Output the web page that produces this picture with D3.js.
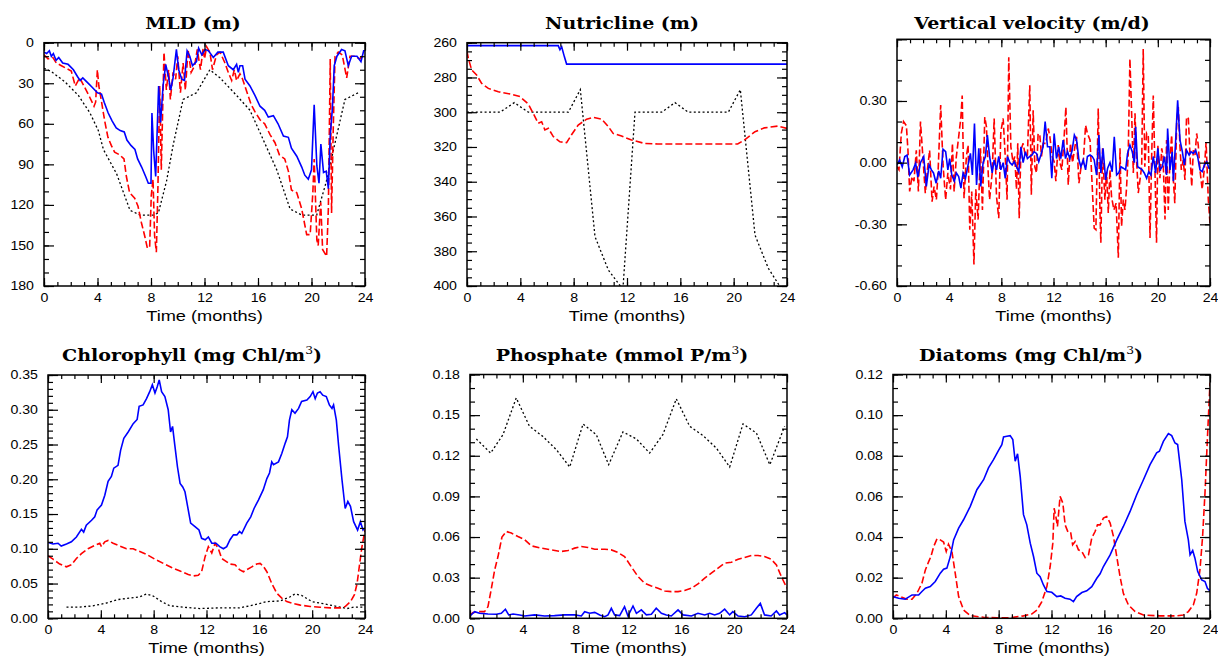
<!DOCTYPE html>
<html>
<head>
<meta charset="utf-8">
<script src="https://cdn.jsdelivr.net/npm/d3@7"></script>
<style>
  body { margin: 0; background: #fff; }
  svg { display: block; }
</style>
</head>
<body>
<svg id="fig" width="1218" height="656"></svg>
<script>
// ---- data: [time in months, value] ----
const mldBlue = [[0,7],[0.2,8],[0.4,6],[0.55,10],[0.7,8],[0.9,13],[1.1,11],[1.4,15],[1.8,16],[2.2,20],[2.5,25],[2.7,28],[2.9,26],[3.2,29],[3.6,33],[4.0,37],[4.3,38],[4.5,44],[4.8,52],[5.1,58],[5.4,63],[5.7,65],[6.0,66],[6.2,72],[6.5,76],[6.8,79],[7.0,86],[7.3,92],[7.6,99],[7.8,104],[8.0,104],[8.07,52],[8.2,80],[8.35,99],[8.57,32],[8.72,59],[8.9,32],[9.1,16],[9.3,25],[9.47,35],[9.65,26],[9.9,5],[10.07,20],[10.3,27],[10.5,28],[10.7,6],[10.9,10],[11.1,17],[11.4,14],[11.56,4],[11.8,9],[12.05,5],[12.3,6],[12.66,11],[13.0,7],[13.4,7],[13.78,17],[14.15,20],[14.4,16],[14.53,22],[14.65,17],[14.85,17],[15.03,27],[15.4,32],[15.77,39],[16.15,47],[16.5,50],[16.77,55],[17.15,54],[17.5,60],[17.9,69],[18.27,70],[18.5,78],[18.9,84],[19.27,92],[19.5,98],[19.76,101],[20.0,94],[20.2,46],[20.4,91],[20.56,104],[20.7,75],[20.9,96],[21.1,95],[21.26,108],[21.4,69],[21.56,49],[21.7,17],[21.9,10],[22.25,5],[22.5,6],[22.75,17],[23.0,10],[23.4,10],[23.7,14],[23.9,6],[24,6]];
const mldRed = [[0,9],[0.3,12],[0.67,11],[0.92,15],[1.3,17],[1.67,19],[2.04,21],[2.34,32],[2.67,26],[3.04,33],[3.4,40],[3.74,47],[3.86,44],[3.99,20],[4.1,32],[4.29,43],[4.54,58],[4.78,70],[5.03,76],[5.28,81],[5.66,83],[5.98,86],[6.16,99],[6.4,111],[6.78,115],[7.03,121],[7.28,133],[7.53,143],[7.73,152],[7.9,151],[8.02,113],[8.15,101],[8.27,143],[8.4,155],[8.52,106],[8.65,32],[8.77,94],[8.97,7],[9.15,35],[9.32,20],[9.45,42],[9.65,22],[9.84,27],[10.0,10],[10.2,37],[10.4,15],[10.57,35],[10.77,5],[11.0,22],[11.26,17],[11.46,5],[11.7,20],[11.9,4],[12.0,12],[12.16,3],[12.4,7],[12.6,20],[12.9,9],[13.16,7],[13.53,15],[13.78,22],[14.03,28],[14.23,20],[14.4,28],[14.65,23],[14.85,27],[15.15,36],[15.5,46],[15.77,51],[16.15,57],[16.5,60],[16.9,68],[17.27,74],[17.6,83],[18.0,86],[18.27,95],[18.5,109],[18.9,111],[19.27,123],[19.64,142],[19.9,142],[20.1,111],[20.2,86],[20.4,146],[20.5,150],[20.69,118],[20.83,153],[21.13,158],[21.26,123],[21.4,12],[21.5,126],[21.63,62],[21.76,10],[22.0,7],[22.3,9],[22.63,26],[22.88,10],[23.25,10],[23.6,12],[23.9,9],[24,9]];
const mldBlack = [[0,19],[0.5,21],[1.57,29],[2.57,39],[3.44,52],[4.06,65],[4.44,79],[5.43,97],[6.43,124],[7.18,127.5],[8.17,127.5],[8.55,126],[9.17,102],[9.67,75],[10.4,42],[11.4,37],[12.4,20],[13.16,26],[14.4,39],[15.4,50],[16.4,72],[17.4,94],[18.4,123],[19.27,127.5],[20.39,127.5],[21.1,103],[21.9,68],[22.5,42],[23.5,37]];

const nutBlue = [[0,261.7],[6.84,261.7],[6.97,264],[7.1,262.3],[7.3,268],[7.47,272.3],[24,272.3]];
const nutRed = [[0,265],[0.1,269],[0.35,275.7],[0.72,278.6],[1.1,283.4],[1.6,286.3],[2.35,288.2],[3.35,289.7],[3.97,291],[4.6,295.3],[4.97,300.7],[5.34,306.4],[5.6,305.5],[5.84,310.2],[6.1,309.3],[6.47,314],[6.97,317],[7.47,317.5],[7.84,313],[8.34,307.4],[8.97,304],[9.47,303],[10.1,304],[10.6,308.3],[10.96,312.2],[11.59,313.7],[12.34,316],[13.34,318],[14.3,318.3],[20.3,318.3],[20.8,316],[21.6,311.2],[22.3,309],[23.3,308],[24,309.3]];
const nutBlack = [[0,300],[2.47,300],[3.55,294.5],[4.6,300],[7.6,300],[8.5,287],[9.6,371.6],[10.6,390.8],[11.6,401],[11.7,401],[12.6,300],[14.6,300],[15.6,294.5],[16.6,300],[19.6,300],[20.5,287],[21.6,370.7],[22.6,389.8],[23.45,400],[24,406]];

const velBlue = [[0,-0.011],[0.2,0.013],[0.4,-0.02],[0.6,0.03],[0.77,0.037],[0.97,-0.06],[1.23,-0.035],[1.43,-0.003],[1.6,-0.07],[1.8,0],[2.05,0.03],[2.25,-0.116],[2.46,-0.011],[2.64,-0.035],[2.8,-0.05],[3.0,-0.1],[3.2,-0.04],[3.35,-0.076],[3.53,0.065],[3.73,0.053],[3.9,-0.035],[4.04,0.02],[4.2,-0.06],[4.4,-0.09],[4.55,-0.05],[4.73,-0.068],[4.9,-0.124],[5.07,-0.05],[5.25,-0.076],[5.45,-0.011],[5.63,0.045],[5.78,-0.06],[5.94,0.19],[6.1,-0.108],[6.27,0.07],[6.42,-0.116],[6.6,0],[6.78,0.03],[6.93,0.134],[7.1,0.03],[7.3,-0.05],[7.45,0.013],[7.63,-0.035],[7.8,0.03],[7.96,-0.035],[8.14,0],[8.3,-0.076],[8.47,0.03],[8.65,0],[8.83,-0.011],[9.0,0.005],[9.16,-0.02],[9.34,-0.044],[9.5,0.077],[9.67,0],[9.85,0.053],[10.0,0.02],[10.18,0.03],[10.36,0.037],[10.5,0.053],[10.7,0.045],[10.87,0.005],[11.03,0.037],[11.2,0.077],[11.36,0.2],[11.54,0.077],[11.72,0.077],[11.87,-0.076],[12.05,0.142],[12.23,0.02],[12.4,0.077],[12.56,0.02],[12.74,0.11],[12.92,0.02],[13.08,0.053],[13.25,0.02],[13.43,0.06],[13.6,0.134],[13.77,0.11],[13.95,0.013],[14.1,-0.02],[14.28,0.013],[14.46,-0.035],[14.6,0.03],[14.8,0.037],[14.97,0.03],[15.12,0.013],[15.3,-0.06],[15.48,0.134],[15.63,-0.05],[15.8,0.07],[16.0,-0.084],[16.15,-0.027],[16.33,0],[16.5,-0.044],[16.66,0.126],[16.84,-0.06],[17.0,-0.05],[17.17,-0.02],[17.35,-0.027],[17.53,-0.035],[17.68,0.045],[17.86,0.085],[18.04,0.053],[18.2,0],[18.3,0.174],[18.45,-0.02],[18.63,-0.027],[18.8,-0.035],[18.96,-0.05],[19.14,-0.076],[19.3,-0.044],[19.47,-0.06],[19.65,0.03],[19.83,-0.05],[20.0,0.07],[20.16,-0.035],[20.34,-0.02],[20.5,0.03],[20.67,-0.06],[20.75,0.166],[20.93,-0.035],[21.1,0.053],[21.19,-0.09],[21.36,0.1],[21.52,0.303],[21.7,0.11],[21.88,0.053],[22.03,-0.011],[22.2,0.06],[22.4,0.037],[22.54,0.053],[22.72,0.045],[22.9,0.06],[23.05,0.03],[23.23,-0.035],[23.4,-0.044],[23.57,-0.011],[23.75,0.005],[23.92,-0.027],[24,-0.027]];
const velRed = [[0,-0.02],[0.15,-0.035],[0.33,0.142],[0.5,0.2],[0.72,0.18],[0.84,0.06],[0.97,-0.14],[1.15,-0.068],[1.3,-0.09],[1.48,0.06],[1.64,-0.14],[1.8,0.2],[2.0,0.013],[2.17,-0.148],[2.33,-0.035],[2.5,0.06],[2.69,-0.19],[2.84,-0.116],[3.02,-0.18],[3.15,-0.044],[3.35,0.28],[3.53,-0.011],[3.73,-0.18],[3.9,-0.05],[4.1,-0.13],[4.25,0.094],[4.38,-0.14],[4.55,0.03],[4.73,0.126],[4.9,0.222],[5.0,0.327],[5.14,-0.173],[5.32,0.03],[5.45,0.085],[5.58,-0.326],[5.73,-0.14],[5.9,-0.495],[6.04,-0.13],[6.22,-0.277],[6.4,0.07],[6.55,-0.23],[6.73,0.222],[6.86,0.174],[7.0,-0.06],[7.1,-0.18],[7.3,-0.05],[7.45,0.215],[7.63,-0.165],[7.8,-0.27],[7.96,0.15],[8.14,0.215],[8.3,0.03],[8.44,-0.18],[8.57,0.513],[8.73,0.077],[8.9,0],[9.03,0.03],[9.16,-0.13],[9.26,0.094],[9.37,-0.27],[9.5,0.06],[9.67,0.094],[9.85,0.03],[10.0,0.037],[10.18,0.376],[10.3,-0.156],[10.44,0.255],[10.57,-0.02],[10.7,-0.05],[10.82,0.142],[10.95,0.134],[11.08,0.03],[11.2,0.094],[11.4,0.094],[11.6,0.166],[11.72,0.126],[11.9,0.03],[12.05,0.005],[12.18,-0.09],[12.36,0.085],[12.49,0],[12.64,-0.035],[12.8,0.11],[12.95,0.27],[13.13,-0.108],[13.3,0.094],[13.46,0],[13.64,0.077],[13.77,0.126],[13.95,-0.1],[14.1,-0.027],[14.28,0],[14.46,0.182],[14.6,0.142],[14.8,0.11],[14.97,-0.116],[15.12,-0.318],[15.25,-0.326],[15.43,0.263],[15.56,-0.23],[15.63,-0.39],[15.76,0.07],[15.94,-0.18],[16.07,-0.044],[16.2,-0.245],[16.33,-0.035],[16.45,-0.165],[16.63,-0.23],[16.8,-0.197],[16.97,-0.463],[17.1,0.07],[17.22,-0.31],[17.35,-0.18],[17.48,-0.23],[17.6,-0.124],[17.73,0.045],[17.86,0.505],[18.0,0.222],[18.12,-0.05],[18.25,0.24],[18.37,0.013],[18.5,-0.148],[18.63,-0.084],[18.76,-0.02],[18.88,0.553],[19.0,-0.02],[19.14,0.142],[19.27,0.126],[19.4,-0.366],[19.52,0.013],[19.65,0.327],[19.78,-0.035],[19.9,-0.39],[20.0,0.085],[20.16,-0.076],[20.3,0.07],[20.4,0.03],[20.55,-0.277],[20.67,0.11],[20.8,-0.23],[20.93,0.013],[21.06,0.134],[21.19,-0.084],[21.3,-0.197],[21.45,0.206],[21.57,0.27],[21.7,0.077],[21.8,-0.035],[21.95,0.013],[22.08,-0.084],[22.2,0.222],[22.34,0.215],[22.47,0.03],[22.6,-0.116],[22.72,0.06],[22.85,0.037],[22.98,0.142],[23.1,0.085],[23.23,-0.035],[23.4,-0.13],[23.57,-0.027],[23.7,0.1],[23.87,-0.18],[24,-0.294]];

const chlBlue = [[0,0.109],[0.38,0.107],[0.76,0.108],[1.0,0.104],[1.4,0.107],[1.77,0.11],[2.15,0.117],[2.53,0.128],[2.7,0.124],[2.9,0.134],[3.3,0.141],[3.54,0.146],[3.72,0.156],[4.05,0.163],[4.3,0.177],[4.55,0.197],[4.8,0.204],[4.98,0.216],[5.3,0.22],[5.5,0.242],[5.74,0.259],[6.07,0.268],[6.45,0.28],[6.75,0.286],[6.9,0.305],[7.2,0.307],[7.46,0.316],[7.7,0.326],[7.9,0.336],[8.1,0.324],[8.27,0.333],[8.42,0.343],[8.6,0.326],[8.85,0.319],[9.1,0.3],[9.28,0.268],[9.43,0.276],[9.6,0.249],[9.8,0.218],[10.0,0.194],[10.2,0.189],[10.37,0.182],[10.57,0.161],[10.8,0.137],[11.13,0.132],[11.43,0.127],[11.63,0.115],[11.9,0.113],[12.14,0.117],[12.4,0.108],[12.72,0.108],[13.0,0.103],[13.28,0.1],[13.53,0.103],[13.78,0.113],[14.04,0.12],[14.3,0.12],[14.5,0.125],[14.67,0.122],[15.05,0.137],[15.35,0.146],[15.6,0.158],[15.93,0.17],[16.3,0.185],[16.57,0.201],[16.77,0.209],[16.94,0.225],[17.07,0.221],[17.45,0.225],[17.7,0.237],[17.96,0.252],[18.13,0.261],[18.28,0.285],[18.46,0.3],[18.7,0.295],[18.97,0.302],[19.2,0.312],[19.6,0.314],[19.85,0.319],[20.06,0.326],[20.23,0.316],[20.4,0.324],[20.6,0.326],[20.8,0.321],[21.07,0.319],[21.3,0.307],[21.5,0.302],[21.62,0.307],[21.83,0.285],[22.0,0.249],[22.26,0.199],[22.5,0.158],[22.7,0.168],[22.9,0.161],[23.14,0.139],[23.44,0.127],[23.65,0.139],[23.85,0.127],[24,0.13]];
const chlRed = [[0,0.09],[0.38,0.085],[0.89,0.078],[1.4,0.074],[1.77,0.077],[2.15,0.086],[2.53,0.093],[3.03,0.1],[3.54,0.105],[3.92,0.108],[4.05,0.103],[4.3,0.11],[4.55,0.112],[4.93,0.108],[5.44,0.104],[5.94,0.1],[6.45,0.1],[6.95,0.096],[7.46,0.092],[8.1,0.085],[8.73,0.079],[9.36,0.073],[10.0,0.068],[10.62,0.063],[11.0,0.061],[11.38,0.062],[11.63,0.067],[11.9,0.089],[12.14,0.103],[12.4,0.094],[12.65,0.108],[12.9,0.1],[13.15,0.086],[13.48,0.082],[13.78,0.078],[14.16,0.077],[14.5,0.07],[14.8,0.067],[15.05,0.07],[15.43,0.074],[15.8,0.078],[16.06,0.079],[16.3,0.075],[16.57,0.067],[16.94,0.05],[17.32,0.036],[17.7,0.029],[18.08,0.024],[18.6,0.021],[19.1,0.019],[19.85,0.017],[20.6,0.016],[21.37,0.015],[22.13,0.015],[22.5,0.017],[22.9,0.024],[23.2,0.034],[23.4,0.05],[23.6,0.079],[23.77,0.103],[24,0.127]];
const chlBlack = [[1.4,0.016],[2.4,0.016],[3.4,0.018],[4.43,0.022],[5.3,0.027],[6.2,0.029],[6.95,0.031],[7.46,0.035],[7.97,0.032],[8.6,0.024],[9.23,0.018],[10.24,0.016],[11.5,0.014],[13.0,0.015],[14.5,0.015],[15.55,0.019],[16.57,0.024],[17.58,0.025],[18.34,0.031],[18.7,0.035],[19.2,0.033],[19.98,0.024],[20.86,0.021],[21.88,0.017],[22.63,0.014],[23.14,0.016],[23.9,0.016]];

const phoBlue = [[0,0.0017],[0.35,0.0049],[0.73,0.0037],[1.36,0.0032],[2.0,0.003],[2.37,0.0037],[2.68,0.0067],[2.93,0.0025],[3.26,0.0032],[3.76,0.0025],[4.14,0.0017],[4.9,0.0025],[5.65,0.0017],[6.4,0.002],[7.17,0.0025],[7.92,0.0025],[8.43,0.0017],[8.68,0.0049],[9.06,0.0037],[9.44,0.0044],[9.82,0.0025],[10.2,0.0012],[10.45,0.0025],[10.7,0.0074],[10.95,0.0025],[11.33,0.002],[11.7,0.0086],[11.96,0.0017],[12.34,0.0091],[12.6,0.0037],[12.97,0.0062],[13.35,0.0025],[13.73,0.003],[14.1,0.0074],[14.49,0.0037],[14.86,0.0025],[15.24,0.0017],[15.75,0.0062],[16.13,0.0025],[16.76,0.0017],[17.26,0.0037],[17.77,0.0025],[18.15,0.0037],[18.52,0.0025],[18.9,0.0037],[19.28,0.0067],[19.66,0.0025],[19.9,0.0049],[20.3,0.0017],[20.8,0.0012],[21.3,0.0025],[21.68,0.0074],[21.98,0.011],[22.3,0.0025],[22.8,0.0017],[23.2,0.0054],[23.44,0.0025],[23.82,0.0042],[24,0.0025]];
const phoRed = [[0,0.0025],[0.23,0.0042],[0.6,0.0049],[1.1,0.0049],[1.36,0.0086],[1.6,0.021],[1.87,0.0358],[2.12,0.0456],[2.42,0.06],[2.75,0.0641],[3.13,0.0629],[3.63,0.0604],[4.14,0.058],[4.64,0.0535],[5.4,0.0518],[6.16,0.0505],[6.9,0.0493],[7.42,0.05],[7.92,0.0518],[8.43,0.053],[8.93,0.0523],[9.44,0.051],[10.2,0.051],[10.7,0.0505],[11.2,0.0486],[11.7,0.0456],[12.2,0.0382],[12.72,0.0308],[13.22,0.0259],[13.73,0.0239],[14.23,0.0222],[14.74,0.0202],[15.24,0.0197],[15.75,0.0197],[16.25,0.0205],[16.76,0.0222],[17.26,0.0254],[17.77,0.0296],[18.27,0.0333],[18.78,0.037],[19.28,0.0407],[19.8,0.0414],[20.3,0.0436],[20.8,0.0449],[21.3,0.0464],[21.8,0.0464],[22.3,0.0456],[22.8,0.0436],[23.2,0.0394],[23.57,0.0308],[24,0.0222]];
const phoBlack = [[0.48,0.1324],[1.56,0.122],[2.5,0.1356],[3.5,0.1627],[4.5,0.1418],[5.5,0.1344],[6.54,0.1245],[7.55,0.1117],[8.56,0.1435],[9.56,0.1356],[10.5,0.1134],[11.58,0.1376],[12.6,0.1324],[13.6,0.122],[14.6,0.1356],[15.62,0.162],[16.63,0.1418],[17.64,0.1349],[18.65,0.1257],[19.66,0.1117],[20.67,0.1435],[21.68,0.1368],[22.7,0.1134],[23.82,0.1418]];

const diaBlue = [[0,0.0107],[0.43,0.0099],[0.93,0.0094],[1.44,0.0115],[1.94,0.0115],[2.19,0.0132],[2.45,0.0148],[2.82,0.0156],[3.2,0.0181],[3.58,0.0222],[3.83,0.0242],[4.08,0.0247],[4.34,0.0304],[4.59,0.0386],[4.97,0.0444],[5.34,0.0485],[5.85,0.0551],[6.35,0.0633],[6.86,0.0682],[7.23,0.074],[7.61,0.0781],[7.99,0.0827],[8.24,0.0855],[8.37,0.0893],[8.62,0.0896],[8.87,0.0899],[9.07,0.088],[9.25,0.0773],[9.43,0.081],[9.63,0.0699],[9.88,0.051],[10.13,0.046],[10.39,0.037],[10.64,0.0304],[10.89,0.0222],[11.14,0.0205],[11.39,0.0164],[11.65,0.0132],[12.02,0.0128],[12.4,0.0107],[12.7,0.011],[13.03,0.0099],[13.4,0.0094],[13.66,0.0082],[13.9,0.0107],[14.3,0.0127],[14.67,0.0135],[15.05,0.0156],[15.43,0.0197],[15.68,0.0219],[15.93,0.0255],[16.44,0.0312],[16.94,0.0386],[17.44,0.0452],[17.95,0.0526],[18.45,0.0608],[18.96,0.0682],[19.46,0.0756],[19.96,0.0814],[20.17,0.0822],[20.47,0.0871],[20.85,0.0909],[21.1,0.0899],[21.35,0.0863],[21.55,0.0855],[21.86,0.0682],[22.1,0.0477],[22.36,0.0386],[22.49,0.0312],[22.69,0.0334],[22.86,0.0296],[23.07,0.023],[23.37,0.0189],[23.62,0.0181],[23.8,0.0148],[24,0.0135]];
const diaRed = [[0,0.0099],[0.25,0.0115],[0.55,0.0107],[1.06,0.0094],[1.44,0.0094],[1.81,0.0123],[2.19,0.0173],[2.45,0.0238],[2.7,0.0279],[2.87,0.0304],[3.08,0.0353],[3.33,0.0391],[3.58,0.0386],[3.83,0.0375],[4.03,0.0329],[4.2,0.0365],[4.46,0.0329],[4.71,0.0222],[4.97,0.0107],[5.34,0.0041],[5.85,0.0013],[6.86,0.0005],[7.86,0.0003],[8.87,0.0003],[9.88,0.0012],[10.5,0.0021],[10.9,0.0041],[11.27,0.0082],[11.65,0.0156],[11.9,0.0255],[12.1,0.037],[12.2,0.0542],[12.33,0.0501],[12.45,0.0452],[12.65,0.06],[12.86,0.0567],[13.03,0.046],[13.28,0.0419],[13.46,0.0419],[13.6,0.0362],[13.79,0.0378],[14.04,0.0337],[14.3,0.0329],[14.55,0.0299],[14.8,0.0312],[15.05,0.0395],[15.3,0.0427],[15.48,0.046],[15.68,0.046],[15.93,0.0493],[16.18,0.0501],[16.44,0.0469],[16.69,0.0403],[16.94,0.0304],[17.19,0.0205],[17.44,0.0123],[17.82,0.0066],[18.33,0.0033],[18.96,0.0016],[20.2,0.0012],[21.48,0.0012],[21.98,0.0016],[22.36,0.0033],[22.74,0.0066],[22.99,0.0123],[23.24,0.0238],[23.44,0.0403],[23.62,0.0616],[23.8,0.088],[24,0.116]];

// ---- ticks / labels ----
const monthTicks = [0, 4, 8, 12, 16, 20, 24];
const mldTicks = [0, 30, 60, 90, 120, 150, 180];
const nutTicks = [260, 280, 300, 320, 340, 360, 380, 400];
const velTicks = [-0.6, -0.3, 0, 0.3, 0.6];
const chlTicks = [0, 0.05, 0.1, 0.15, 0.2, 0.25, 0.3, 0.35];
const phoTicks = [0, 0.03, 0.06, 0.09, 0.12, 0.15, 0.18];
const diaTicks = [0, 0.02, 0.04, 0.06, 0.08, 0.1, 0.12];

const svg = d3.select("#fig");
const sansFont = '"Liberation Sans", Arial, sans-serif';
const fx = v => v.toFixed(2);

const panels = [
  { title: ["MLD (m)"], tx: 193, ty: 28.5, box: [44, 42.7, 365, 286],
    yDomain: [0, 180], flip: true, major: mldTicks, minor: d3.range(0, 181, 10), fmt: d => d,
    blue: mldBlue, red: mldRed, black: mldBlack },
  { title: ["Nutricline (m)"], tx: 622, ty: 28.5, box: [467, 42.7, 787, 286],
    yDomain: [260, 400], flip: true, major: nutTicks, minor: d3.range(260, 401, 5), fmt: d => d,
    blue: nutBlue, red: nutRed, black: nutBlack },
  { title: ["Vertical velocity (m/d)"], tx: 1032, ty: 28.5, box: [897, 39.3, 1210, 286],
    yDomain: [-0.6, 0.6], flip: false, major: velTicks, minor: d3.range(0, 13).map(i => -0.6 + i * 0.1),
    fmt: d => d > 0.5 ? "" : fx(d), blue: velBlue, red: velRed, black: null },
  { title: ["Chlorophyll (mg Chl/m", "3", ")"], tx: 192, ty: 361, box: [48, 375, 365, 618.3],
    yDomain: [0, 0.35], flip: false, major: chlTicks, minor: d3.range(0, 36).map(i => i * 0.01), fmt: fx,
    blue: chlBlue, red: chlRed, black: chlBlack },
  { title: ["Phosphate (mmol P/m", "3", ")"], tx: 622, ty: 361, box: [470, 374.5, 787, 618.3],
    yDomain: [0, 0.18], flip: false, major: phoTicks, minor: d3.range(0, 19).map(i => i * 0.01), fmt: fx,
    blue: phoBlue, red: phoRed, black: phoBlack },
  { title: ["Diatoms (mg Chl/m", "3", ")"], tx: 1031, ty: 361, box: [893, 374.5, 1210, 618.3],
    yDomain: [0, 0.12], flip: false, major: diaTicks, minor: d3.range(0, 19).map(i => i * 0.02 / 3), fmt: fx,
    blue: diaBlue, red: diaRed, black: null }
];

panels.forEach((p, k) => {
  const [x0, y0, x1, y1] = p.box;
  const w = x1 - x0, h = y1 - y0;
  const g = svg.append("g").attr("transform", `translate(${x0},${y0})`);

  const x = d3.scaleLinear().domain([0, 24]).range([0, w]);
  const y = d3.scaleLinear().domain(p.yDomain).range(p.flip ? [0, h] : [h, 0]);

  // clip
  svg.append("clipPath").attr("id", "clip" + k)
    .append("rect").attr("width", w).attr("height", h);

  const line = d3.line().x(d => x(d[0])).y(d => y(d[1]));
  const plot = g.append("g").attr("clip-path", `url(#clip${k})`);

  if (p.black) plot.append("path").datum(p.black)
    .attr("d", line).attr("fill", "none").attr("stroke", "#000")
    .attr("stroke-width", 1.3).attr("stroke-dasharray", "2,2.4");
  plot.append("path").datum(p.red)
    .attr("d", line).attr("fill", "none").attr("stroke", "#ff0000")
    .attr("stroke-width", 1.6).attr("stroke-dasharray", "7,3");
  plot.append("path").datum(p.blue)
    .attr("d", line).attr("fill", "none").attr("stroke", "#0000ff")
    .attr("stroke-width", 1.6);

  // axes: ticks on all four sides, pointing inward
  const minorX = d3.range(0, 25);
  const ax = (gen, tx, ty) => g.append("g").attr("transform", `translate(${tx},${ty})`).call(gen);

  ax(d3.axisBottom(x).tickValues(minorX).tickSize(-4).tickFormat(""), 0, h);
  ax(d3.axisTop(x).tickValues(minorX).tickSize(-4).tickFormat(""), 0, 0);
  ax(d3.axisLeft(y).tickValues(p.minor).tickSize(-5).tickFormat(""), 0, 0);
  ax(d3.axisRight(y).tickValues(p.minor).tickSize(-5).tickFormat(""), w, 0);
  ax(d3.axisTop(x).tickValues(monthTicks).tickSize(-8).tickFormat(""), 0, 0);
  ax(d3.axisRight(y).tickValues(p.major).tickSize(-10).tickFormat(""), w, 0);

  const bottom = ax(d3.axisBottom(x).tickValues(monthTicks).tickSizeInner(-8).tickSizeOuter(0)
    .tickPadding(7).tickFormat(d => d), 0, h);
  const left = ax(d3.axisLeft(y).tickValues(p.major).tickSizeInner(-10).tickSizeOuter(0)
    .tickPadding(8.5).tickFormat(p.fmt), 0, 0);

  g.selectAll(".domain").remove();
  g.selectAll(".tick line").attr("stroke-width", 1.2);
  [bottom, left].forEach(a => {
    a.attr("font-family", sansFont).attr("font-size", 12);
    a.selectAll("text").attr("fill", "#000").attr("transform", "scale(1.18,1)");
  });

  // frame
  g.append("rect").attr("width", w).attr("height", h)
    .attr("fill", "none").attr("stroke", "#000").attr("stroke-width", 1.5);

  // x label
  g.append("text")
    .attr("transform", `translate(${w / 2},${h + 34.7}) scale(1.3,1)`)
    .attr("text-anchor", "middle").attr("font-family", sansFont).attr("font-size", 14)
    .text("Time (months)");

  // title
  const t = svg.append("text")
    .attr("transform", `translate(${p.tx},${p.ty}) scale(1.12,1)`)
    .attr("text-anchor", "middle").attr("font-family", '"DejaVu Serif", serif')
    .attr("font-weight", "bold").attr("font-size", 17);
  t.append("tspan").text(p.title[0]);
  if (p.title.length > 1) {
    t.append("tspan").attr("font-size", 11).attr("font-weight", "normal").attr("dy", -7).text(p.title[1]);
    t.append("tspan").attr("dy", 7).text(p.title[2]);
  }
});
</script>
</body>
</html>
